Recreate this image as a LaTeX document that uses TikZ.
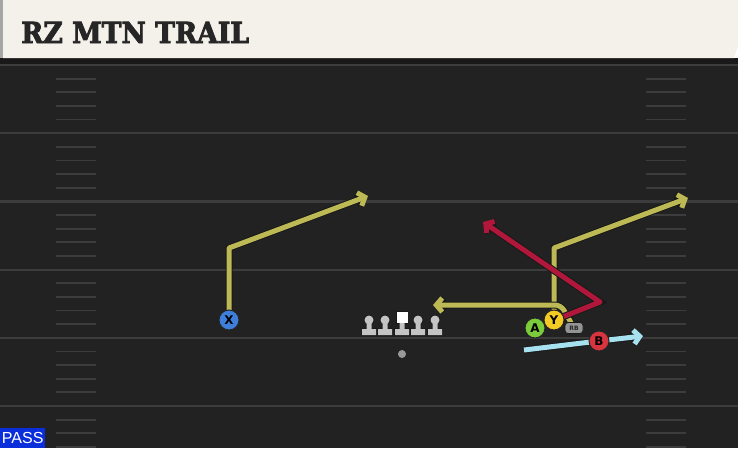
\documentclass[tikz,border=0pt]{standalone}
\usepackage{fontspec}
\setsansfont{DejaVu Sans}
\newfontfamily\titlefont{DejaVu Serif}[FakeBold=3]
\newfontfamily\passfont{Liberation Sans}
\usetikzlibrary{arrows.meta}

\definecolor{turf}{HTML}{222222}
\definecolor{yardline}{HTML}{3C3C3C}
\definecolor{cream}{HTML}{F4F1EA}
\definecolor{olive}{HTML}{BDBA55}
\definecolor{crimson}{HTML}{B0173A}
\definecolor{skyblue}{HTML}{A6E1F0}
\definecolor{xblue}{HTML}{3F7FDC}
\definecolor{yyellow}{HTML}{F3CB22}
\definecolor{agreen}{HTML}{7CCB3B}
\definecolor{bred}{HTML}{D8343E}
\definecolor{linegray}{HTML}{C4C4C4}
\definecolor{passblue}{HTML}{0B2EDB}

\pgfdeclarelayer{field}
\pgfdeclarelayer{routes}
\pgfsetlayers{field,routes,main}

\tikzset{
  player/.style={circle, draw=black!85, line width=1pt, minimum size=20pt,
    inner sep=0pt, font=\sffamily\bfseries\fontsize{12}{12}\selectfont},
  route/.style={line width=5pt, line join=round,
    -{Straight Barb[length=6pt,width=14pt]},
    preaction={draw=black!90, line width=7pt, -{Straight Barb[length=6pt,width=14pt]}}},
  hash/.style={yardline, line width=1.8pt},
  lineman/.pic={
    \filldraw[black!90, line width=1.4pt] (-7,0) rectangle (7,-6) (-2.5,-6) rectangle (2.5,-13) (0,-15) circle (4.5);
    \fill[linegray] (-7,0) rectangle (7,-6) (-2.5,-6) rectangle (2.5,-13) (0,-15) circle (4.5);
  },
  center/.pic={
    \filldraw[black!90, line width=1.4pt] (-7,0) rectangle (7,-6) (-2.5,-6) rectangle (2.5,-12) (-5.5,-12) rectangle (5.5,-23);
    \fill[linegray] (-7,0) rectangle (7,-6) (-2.5,-6) rectangle (2.5,-12);
    \fill[white] (-5.5,-12) rectangle (5.5,-23);
  }
}

\begin{document}
\begin{tikzpicture}[x=1pt, y=-1pt]
\useasboundingbox (0,0) rectangle (738,448);

% Field
\begin{pgfonlayer}{field}
\fill[turf] (0,58) rectangle (738,448);
\fill[black!90] (0,58) rectangle (738,64);
\begin{scope}
\clip (0,64) rectangle (738,448);
\foreach \i in {0,...,5} {
  \draw[yardline, line width=2.2pt] (0,65+68.2*\i) -- (738,65+68.2*\i);
  \foreach \k in {1,...,4} {
    \draw[hash] (56,65+68.2*\i+13.6*\k) -- (96,65+68.2*\i+13.6*\k);
    \draw[hash] (646,65+68.2*\i+13.6*\k) -- (686,65+68.2*\i+13.6*\k);
  }
}
\end{scope}
\end{pgfonlayer}

% Title bar
\fill[cream] (3,0) -- (738,0) -- (738,46) -- (734,58) -- (3,58) -- cycle;
\fill[black!35] (0,0) rectangle (3,58);
\node[anchor=base west, inner sep=0pt, text=black!85, xscale=0.92,
  font=\titlefont\bfseries\fontsize{29}{29}\selectfont] (title) at (21,43) {RZ MTN TRAIL};

% Line
\foreach \x in {369,385,418,435} \pic at (\x,335) {lineman};
\pic at (402,335) {center};
\node[circle, fill=black!40, draw=black!90, line width=0.6pt, minimum size=9pt, inner sep=0pt] (qb) at (402,354) {};

% Players
\node[player, fill=xblue] (X) at (229,320) {X};
\node[player, fill=agreen] (A) at (535,328) {A};
\node[player, fill=yyellow] (Y) at (554,320) {Y};
\node[player, fill=bred] (B) at (599,341) {B};
\node[rounded corners=3pt, fill=black!42, draw=black!90, line width=0.8pt, minimum width=18pt, minimum height=11pt,
  inner sep=0pt, font=\sffamily\bfseries\fontsize{6}{6}\selectfont, text=black!85] (RB) at (574,328) {RB};

% Routes
\coordinate (xend) at (368,196);
\coordinate (yend) at (688,198);
\coordinate (aend) at (483,222);
\coordinate (rbend) at (433,305);
\coordinate (bstart) at (524,350);
\coordinate (bend) at (643,336);
\begin{pgfonlayer}{routes}
\draw[route, olive] (X.center) -- (229,248) -- (xend);
\draw[route, olive] (Y.center) -- (554,248) -- (yend);
\draw[route, olive, rounded corners=6pt] (RB.center) -- (561,305) -- (rbend);
\draw[route, crimson] (A.center) -- (600,302) -- (aend);
\draw[route, skyblue] (bstart) -- (B.center) -- (bend);
\end{pgfonlayer}

% Play type
\node[fill=passblue, anchor=south west, minimum width=45pt, minimum height=20pt, inner sep=0pt,
  text=white, font=\passfont\fontsize{16}{16}\selectfont] (pass) at (0,448) {PASS};
\end{tikzpicture}
\end{document}
